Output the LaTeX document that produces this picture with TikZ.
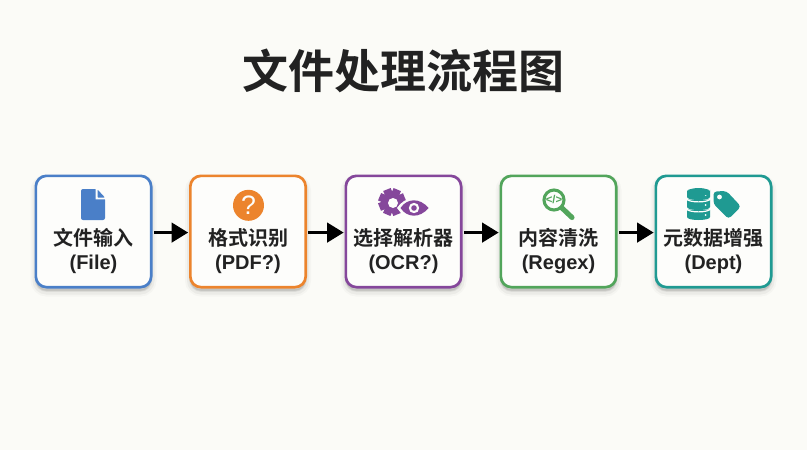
\documentclass[tikz,border=0pt]{standalone}
\usepackage{fontspec}
\setmainfont{Liberation Sans}
\newfontfamily\cjk{Noto Sans CJK SC}[BoldFont={* Bold}]
\usetikzlibrary{arrows.meta,shadows}
\definecolor{bgc}{HTML}{FBFBF7}
\definecolor{boxc}{HTML}{FDFDFB}
\definecolor{ink}{HTML}{222222}
\definecolor{cblue}{HTML}{4A7FC8}
\definecolor{corange}{HTML}{EC842D}
\definecolor{cpurple}{HTML}{85479B}
\definecolor{cgreen}{HTML}{52A55B}
\definecolor{cteal}{HTML}{1F9A92}
\tikzset{
  x=0.75pt,y=-0.75pt,
  softshade/.style={
    general shadow={shadow yshift=-3pt,draw=black,draw opacity=.025,fill=black,fill opacity=.025,line width=8pt},
    general shadow={shadow yshift=-3pt,draw=black,draw opacity=.04,fill=black,fill opacity=.04,line width=5pt},
    general shadow={shadow yshift=-2.5pt,draw=black,draw opacity=.06,fill=black,fill opacity=.06,line width=2pt}},
  procbox/.style={draw=#1,fill=boxc,line width=2pt,rounded corners=8pt,
    minimum width=86.5pt,minimum height=83.5pt,inner sep=0pt,softshade},
  boxtext/.style={font=\bfseries\fontsize{15}{18}\selectfont,text=ink,align=center,inner sep=0pt},
  flow/.style={line width=2.7pt,draw=black,shorten <=1pt,shorten >=0.6pt,
    -{Triangle[length=12.5pt,width=14.5pt,fill=black]}},
}
\begin{document}
\begin{tikzpicture}
\useasboundingbox (0,0) rectangle (807,450);
\fill[bgc] (0,0) rectangle (807,450);
\node[font=\cjk\bfseries\fontsize{34.5}{40}\selectfont,text=ink,inner sep=0pt] (title) at (403.5,70.5) {文件处理流程图};

\node[procbox=cblue]   (b1) at (93.5,231.5) {};
\node[procbox=corange] (b2) at (248,231.5) {};
\node[procbox=cpurple] (b3) at (403.5,231.5) {};
\node[procbox=cgreen]  (b4) at (558.5,231.5) {};
\node[procbox=cteal]   (b5) at (713.5,231.5) {};

\node[boxtext] (t1) at (93.5,251) {{\cjk 文件输入}\\(File)};
\node[boxtext] (t2) at (248,251) {{\cjk 格式识别}\\(PDF?)};
\node[boxtext] (t3) at (403.5,251) {{\cjk 选择解析器}\\(OCR?)};
\node[boxtext] (t4) at (558.5,251) {{\cjk 内容清洗}\\(Regex)};
\node[boxtext] (t5) at (713.5,251) {{\cjk 元数据增强}\\(Dept)};

\draw[flow] ([yshift=-.8pt]b1.east) -- ([yshift=-.8pt]b2.west);
\draw[flow] ([yshift=-.8pt]b2.east) -- ([yshift=-.8pt]b3.west);
\draw[flow] ([yshift=-.8pt]b3.east) -- ([yshift=-.8pt]b4.west);
\draw[flow] ([yshift=-.8pt]b4.east) -- ([yshift=-.8pt]b5.west);

% file icon
\fill[cblue,rounded corners=1.5pt] (81,189) -- (97,189) -- (105,197.5) -- (105,220) -- (81,220) -- cycle;
\fill[boxc] (95.6,187.5) -- (95.6,199.3) -- (106.5,199.3) -- (106.5,196.8) -- (98,187.5) -- cycle;
\fill[cblue,rounded corners=.6pt] (97.5,189.5) -- (97.5,197.6) -- (105,197.6) -- cycle;

% question icon
\fill[corange] (248.5,205.3) circle (15.5);
\node[font=\fontsize{20}{20}\selectfont,text=boxc,inner sep=0pt] (q) at (248.5,205.3) {?};

% gear + eye
\fill[cpurple] (392,202) circle (10.5);
\foreach \a in {0,45,...,315}
  \fill[cpurple,rotate around={\a+22:(392,202)}] (388,188.5) rectangle (396,196);
\fill[boxc] (393,203) circle (5);
\fill[boxc] (397,208) .. controls (405,195.5) and (421,195) .. (431,208) .. controls (421,221) and (405,220.5) .. (397,208) -- cycle;
\fill[cpurple] (400.5,208) .. controls (407,198) and (420,197.5) .. (428.5,208) .. controls (420,218.5) and (407,218) .. (400.5,208) -- cycle;
\fill[boxc] (414,208) circle (5.2);
\fill[cpurple] (414,208) circle (2.8);

% magnifier
\draw[cgreen,line width=2.3pt] (554,200) circle (10);
\draw[cgreen,line width=3.8pt,line cap=round] (562,208) -- (572,217.5);
\node[font=\bfseries\fontsize{8.5}{8.5}\selectfont,text=cgreen,inner sep=0pt] (code) at (554,200) {</>};

% database
\foreach \yy in {209.5,199.5,189.5} {
  \fill[cteal] (687,\yy) -- (687,\yy+7.5) .. controls (687,\yy+11.5) and (710,\yy+11.5) .. (710,\yy+7.5) -- (710,\yy) -- cycle;
  \draw[boxc,line width=.9pt] (686.5,\yy-1) .. controls (687,\yy+3.5) and (710,\yy+3.5) .. (710.5,\yy-1);
  \fill[boxc] (705.5,\yy+5.5) circle (1);
}
\fill[cteal] (698.5,192) ellipse (11.5 and 4);

% tag
\fill[cteal,rounded corners=2.5pt] (713.5,191.5) -- (726.5,191) -- (741,206.5) -- (728.5,219) -- (713.5,204) -- cycle;
\fill[boxc] (719.5,197) circle (2.4);
\end{tikzpicture}
\end{document}
